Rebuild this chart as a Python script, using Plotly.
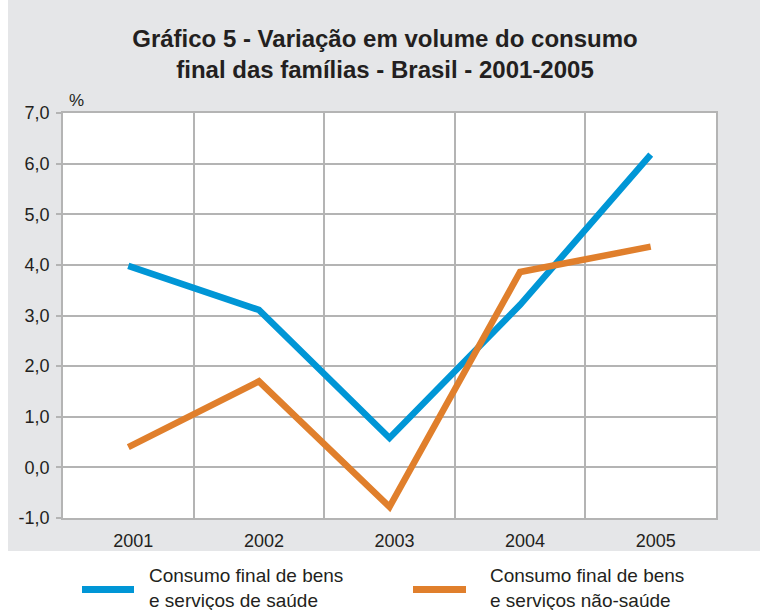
import plotly.graph_objects as go

years = ["2001", "2002", "2003", "2004", "2005"]
saude = [3.98, 3.11, 0.58, 3.21, 6.18]
nao_saude = [0.40, 1.70, -0.78, 3.86, 4.36]
y_ticks = [-1, 0, 1, 2, 3, 4, 5, 6, 7]
y_labels = ["-1,0", "0,0", "1,0", "2,0", "3,0", "4,0", "5,0", "6,0", "7,0"]
name_saude = "Consumo final de bens<br>e serviços de saúde"
name_nao = "Consumo final de bens<br>e serviços não-saúde"
title = "Gráfico 5 - Variação em volume do consumo<br>final das famílias - Brasil - 2001-2005"

FONT = "Liberation Sans, Arial, sans-serif"
GRID = "#b4b4b4"
GRAY_BG = "#e5e6e8"
TXT = "#231f20"
BLUE = "#0096d6"
ORANGE = "#e07f2c"

W, H = 760, 610
L, R, T, B = 63, 44, 113, 92
pw, ph = W - L - R, H - T - B


def px_x(p):
    return (p - L) / pw


def px_y(p):
    return (H - B - p) / ph


fig = go.Figure()
fig.add_trace(go.Scatter(x=years, y=saude, mode="lines", name=name_saude,
                         line=dict(color=BLUE, width=6.5), showlegend=False))
fig.add_trace(go.Scatter(x=years, y=nao_saude, mode="lines", name=name_nao,
                         line=dict(color=ORANGE, width=6.5), showlegend=False))

# legend drawn as swatches + text (matches the reference's long swatches)
legend_items = [(name_saude, BLUE, 82, 134, 149), (name_nao, ORANGE, 413, 466, 490)]
shapes = [
    dict(type="rect", xref="paper", yref="paper", layer="below",
         x0=px_x(0), x1=px_x(8), y0=px_y(H), y1=px_y(0),
         fillcolor="white", line=dict(width=0)),
    dict(type="rect", xref="paper", yref="paper", layer="below",
         x0=px_x(0), x1=px_x(W), y0=px_y(H), y1=px_y(551),
         fillcolor="white", line=dict(width=0)),
]
annotations = [
    dict(text="%", xref="paper", yref="paper", x=px_x(67), y=px_y(100),
         xanchor="left", yanchor="middle", showarrow=False,
         font=dict(size=17, color=TXT)),
]
for name, col, sx0, sx1, tx in legend_items:
    shapes.append(dict(type="line", xref="paper", yref="paper",
                       x0=px_x(sx0), x1=px_x(sx1), y0=px_y(589.5), y1=px_y(589.5),
                       line=dict(color=col, width=7)))
    annotations.append(dict(text=name, xref="paper", yref="paper", x=px_x(tx - 2),
                            y=px_y(588), xanchor="left", yanchor="middle",
                            align="left", showarrow=False,
                            font=dict(size=19, color=TXT)))

fig.update_layout(
    width=W, height=H,
    margin=dict(l=L, r=R, t=T, b=B, autoexpand=False),
    paper_bgcolor=GRAY_BG,
    plot_bgcolor="white",
    font=dict(family=FONT, size=18, color=TXT),
    hovermode=False,
    title=dict(text="<b>" + title + "</b>", x=385 / W, xanchor="center",
               y=1 - 46.5 / H, yanchor="top",
               font=dict(family=FONT, size=24, color=TXT)),
    xaxis=dict(type="category", range=[-0.5, 4.5], tickson="boundaries",
               showgrid=True, gridcolor=GRID, gridwidth=1.5, ticks="",
               showline=True, linecolor=GRID, linewidth=1.5, mirror=True,
               tickfont=dict(size=18), ticklabelstandoff=6, ticklabelshift=5,
               fixedrange=True),
    yaxis=dict(range=[-1, 7], tickmode="array", tickvals=y_ticks, ticktext=y_labels,
               showgrid=True, gridcolor=GRID, gridwidth=1.5, zeroline=False,
               ticks="outside", ticklen=5, tickcolor=GRID, tickwidth=1.5,
               showline=True, linecolor=GRID, linewidth=1.5, mirror=True,
               tickfont=dict(size=18), ticklabelstandoff=3, fixedrange=True),
    shapes=shapes,
    annotations=annotations,
)

fig.write_html("out.html", config={"displayModeBar": False},
               post_script="document.body.style.margin='0';")
